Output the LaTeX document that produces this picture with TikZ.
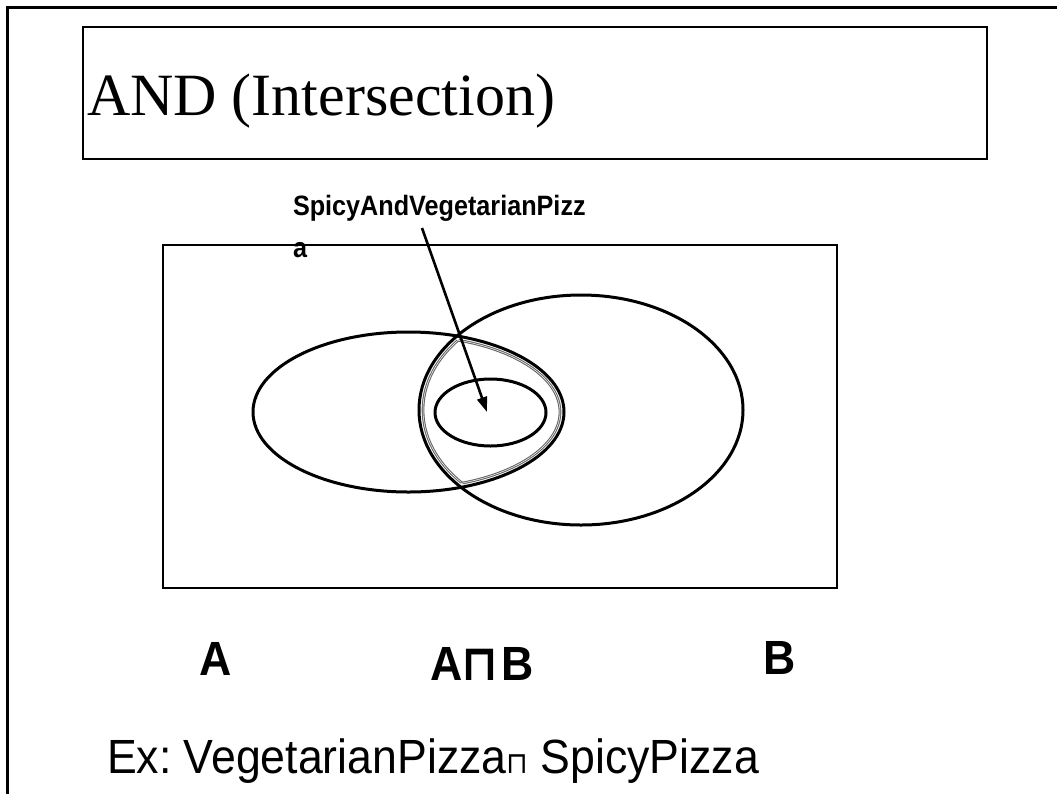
\documentclass[tikz,border=0pt]{standalone}
\usepackage{fontspec}
\setmainfont{Liberation Serif}
\setsansfont{Liberation Sans}
\newfontfamily\symfont{DejaVu Sans}
\usetikzlibrary{arrows.meta,shapes.geometric}

\tikzset{
  frame/.style={draw=black, line width=2.4pt},
  setline/.style={draw=black, line width=3pt},
  lensline/.style={draw=gray!80!black, line width=1.1pt, double=white, double distance=0.5pt},
  plain/.style={inner sep=0pt, outer sep=0pt},
  pointer/.style={draw=black, line width=2.6pt, -{Triangle[length=15pt,width=10pt]}},
  labeltext/.style={plain, anchor=base west, font=\sffamily\bfseries\fontsize{28}{34}\selectfont},
  captext/.style={plain, anchor=base west, font=\sffamily\bfseries\fontsize{48}{56}\selectfont},
}
\newcommand{\narrow}[2][0.9]{\scalebox{#1}[1]{#2}}

\begin{document}
\frenchspacing
\begin{tikzpicture}[x=1pt,y=-1pt]
\useasboundingbox (0,0) rectangle (1057,793);

% slide frame, open to the right and bottom
\draw[frame] (7.5,800) -- (7.5,7.5) -- (1065,7.5);

% title box
\draw[frame] (83,27) rectangle (987,159);
\node[plain, anchor=base west] (title) at (87,115)
  {\fontsize{60}{72}\selectfont AND (Intersection)};

% universe
\draw[black, line width=1.5pt] (163,245) rectangle (837,588);

% sets
\draw[setline] (408.5,412) ellipse [x radius=155.5, y radius=80];
\draw[setline] (581,410) ellipse [x radius=162, y radius=115];

% outline of the overlap
\begin{scope}
  \clip (408.5,412) ellipse [x radius=151.5, y radius=76];
  \draw[lensline] (581,410) ellipse [x radius=158, y radius=111];
\end{scope}
\begin{scope}
  \clip (581,410) ellipse [x radius=158, y radius=111];
  \draw[lensline] (408.5,412) ellipse [x radius=151.5, y radius=76];
\end{scope}

% inner class
\node[setline, ellipse, minimum width=111, minimum height=67, inner sep=0pt] (inner) at (490.5,412.5) {};
\coordinate (tip) at (487,412);

% label (wrapped) and pointer
\node[labeltext] (lbl1) at (293,215) {\narrow{SpicyAndVegetarianPizz}};
\node[labeltext] (lbl2) at (293,257) {\narrow{a}};
\coordinate (tail) at (422,228);
\draw[pointer] (tail) -- (tip);

% captions
\node[captext] (capA) at (199,675) {\narrow[0.93]{A}};
\node[captext] (capAB) at (430,680)
  {\narrow[0.93]{A{\symfont\bfseries\fontsize{50}{56}\selectfont\kern-1pt ⊓}\kern3pt B}};
\node[captext] (capB) at (763,674) {\narrow[0.93]{B}};

% example
\node[plain, anchor=base west, font=\sffamily\fontsize{48}{56}\selectfont] (ex) at (107,773)
  {\narrow[0.93]{Ex: VegetarianPizza{\symfont\fontsize{30}{36}\selectfont ⊓} SpicyPizza}};
\end{tikzpicture}
\end{document}
